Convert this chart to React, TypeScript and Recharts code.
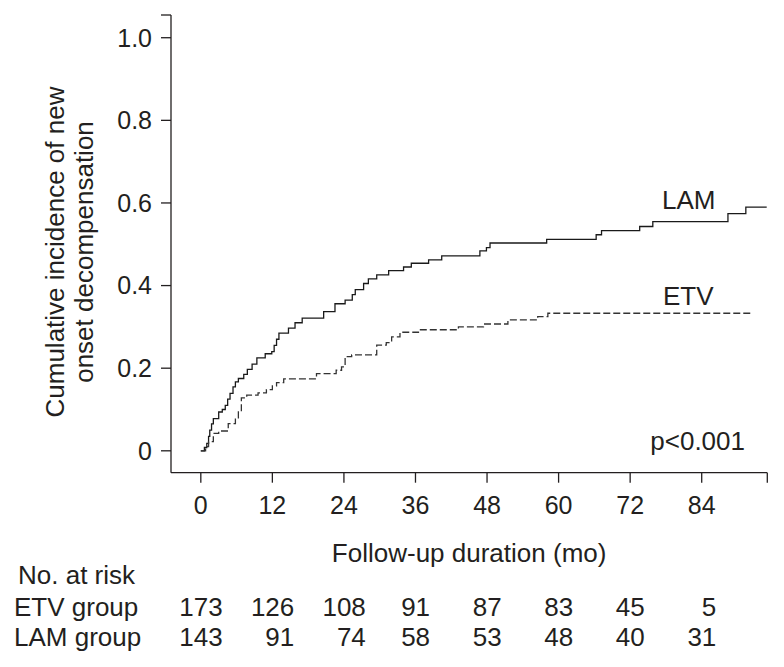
import { LineChart, Line, XAxis, YAxis, Customized } from 'recharts'

// Kaplan-Meier style cumulative incidence (months, value)
const LAM_T = [0, 0.6, 1.0, 1.3, 1.5, 1.8, 2.1, 3.0, 3.6, 4.1, 4.5, 4.9, 5.4, 5.8, 6.3, 7.2, 7.8, 8.6, 9.4, 10.8, 11.9, 12.3, 12.7, 13.1, 14.7, 15.8, 17.0, 20.6, 22.5, 24.2, 25.4, 25.9, 27.3, 28.1, 29.5, 31.5, 34.0, 35.3, 38.2, 40.4, 46.8, 47.9, 48.5, 58.0, 66.3, 67.2, 73.6, 75.8, 88.4, 91.4, 94.9]
const LAM_V = [0, 0.008, 0.018, 0.035, 0.05, 0.065, 0.078, 0.094, 0.1, 0.11, 0.125, 0.139, 0.155, 0.167, 0.175, 0.185, 0.197, 0.21, 0.225, 0.235, 0.24, 0.255, 0.27, 0.285, 0.297, 0.31, 0.321, 0.337, 0.356, 0.365, 0.378, 0.39, 0.405, 0.416, 0.426, 0.436, 0.445, 0.454, 0.462, 0.472, 0.484, 0.492, 0.503, 0.512, 0.523, 0.533, 0.543, 0.555, 0.574, 0.59, 0.59]

const ETV_T = [0, 0.8, 1.3, 2.1, 3.0, 4.6, 5.8, 6.3, 6.8, 7.7, 9.6, 11.0, 12.0, 12.7, 13.9, 19.4, 22.7, 23.6, 24.2, 25.3, 29.5, 31.1, 32.0, 33.4, 36.5, 43.2, 47.4, 51.5, 56.5, 58.2, 92.5]
const ETV_V = [0, 0.01, 0.022, 0.042, 0.048, 0.066, 0.08, 0.094, 0.128, 0.135, 0.14, 0.148, 0.157, 0.165, 0.174, 0.187, 0.195, 0.203, 0.228, 0.232, 0.256, 0.262, 0.276, 0.287, 0.293, 0.3, 0.307, 0.317, 0.325, 0.333, 0.333]

const X_TICKS = [0, 12, 24, 36, 48, 60, 72, 84, 95]
const Y_TICKS = [0, 0.2, 0.4, 0.6, 0.8, 1.0, 1.055]
const ETV_RISK = [173, 126, 108, 91, 87, 83, 45, 5]
const LAM_RISK = [143, 91, 74, 58, 53, 48, 40, 31]

const lamData = LAM_T.map((t, i) => ({ t, v: LAM_V[i] }))
const etvData = ETV_T.map((t, i) => ({ t, v: ETV_V[i] }))

const INK = '#231f20'
const FONT = "'Liberation Sans', Arial, Helvetica, sans-serif"
const HALF_DIGIT = 7.3

function XTick(props: any) {
  const { x, y, payload } = props
  const i = X_TICKS.indexOf(payload.value)
  if (i < 0 || i >= ETV_RISK.length) return <g />
  const digits = Math.max(String(ETV_RISK[i]).length, String(LAM_RISK[i]).length)
  const right = x + digits * HALF_DIGIT
  return (
    <g fill={INK} fontFamily={FONT}>
      <text x={x} y={y + 31} textAnchor="middle" fontSize={25}>{payload.value}</text>
      <text x={right} y={y + 133} textAnchor="end" fontSize={26}>{ETV_RISK[i]}</text>
      <text x={right} y={y + 163} textAnchor="end" fontSize={26}>{LAM_RISK[i]}</text>
    </g>
  )
}

function XTitle(props: any) {
  const vb = props.viewBox
  return (
    <g fill={INK} fontFamily={FONT} fontSize={26}>
      <text x={vb.x + vb.width / 2} y={vb.y + 89} textAnchor="middle">Follow-up duration (mo)</text>
      <text x={18} y={vb.y + 111}>No. at risk</text>
      <text x={14} y={vb.y + 143}>ETV group</text>
      <text x={14} y={vb.y + 173}>LAM group</text>
    </g>
  )
}

function YTitle() {
  return (
    <g fill={INK} fontFamily={FONT} fontSize={26} textAnchor="middle">
      <text transform="translate(64,252) rotate(-90)">Cumulative incidence of new</text>
      <text transform="translate(93,252) rotate(-90)">onset decompensation</text>
    </g>
  )
}

function Notes() {
  return (
    <g fill={INK} fontFamily={FONT} fontSize={26}>
      <text x={662} y={209}>LAM</text>
      <text x={663} y={305}>ETV</text>
      <text x={745} y={450} textAnchor="end">p&lt;0.001</text>
    </g>
  )
}

export default function App() {
  return (
    <div style={{ position: 'absolute', left: 0, top: 0, width: 784, height: 667, background: '#fff' }}>
      <LineChart width={784} height={667} margin={{ top: 15, right: 16.7, bottom: 164.3, left: 111 }}>
        <XAxis
          type="number"
          dataKey="t"
          domain={[-5, 95]}
          ticks={X_TICKS}
          height={30}
          tickSize={10}
          tickMargin={0}
          tick={XTick}
          stroke={INK}
          strokeWidth={1.3}
          allowDataOverflow
          label={{ content: XTitle }}
        />
        <YAxis
          type="number"
          domain={[-0.053, 1.055]}
          ticks={Y_TICKS}
          width={60}
          tickSize={10}
          tickMargin={9}
          stroke={INK}
          strokeWidth={1.3}
          allowDataOverflow
          tick={{ fill: INK, fontSize: 25, fontFamily: FONT }}
          tickFormatter={(v: number) => (v === 0 ? '0' : v > 1.01 ? '' : v.toFixed(1))}
          label={{ content: YTitle }}
        />
        <Line data={lamData} dataKey="v" type="stepAfter" stroke="#1a1a1a" strokeWidth={1.3} dot={false} isAnimationActive={false} />
        <Line data={etvData} dataKey="v" type="stepAfter" stroke="#333" strokeWidth={1.3} strokeDasharray="7 3" dot={false} isAnimationActive={false} />
        <Customized component={Notes} />
      </LineChart>
    </div>
  )
}
